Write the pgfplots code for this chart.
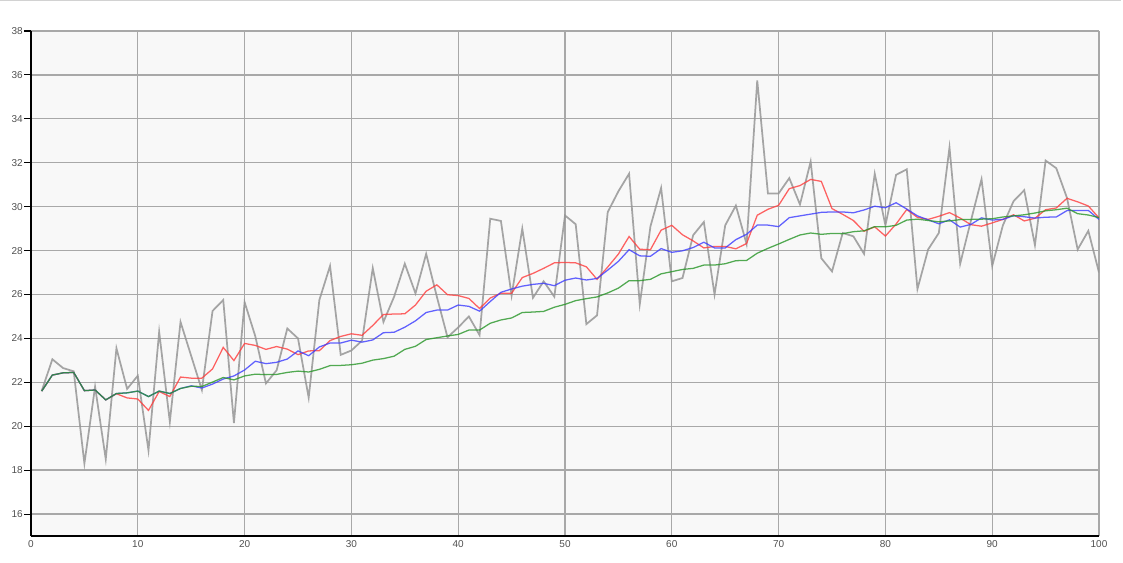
\documentclass[border=0pt]{standalone}
\usepackage{fontspec}
\setmainfont{Liberation Sans}
\usepackage{pgfplots}
\usepackage{pgfplotstable}
\pgfplotsset{compat=1.18}

\definecolor{gridgray}{RGB}{168,168,168}
\definecolor{rawgray}{RGB}{150,150,150}
\definecolor{mared}{RGB}{255,60,60}
\definecolor{mablue}{RGB}{60,60,255}
\definecolor{magreen}{RGB}{40,150,40}
\definecolor{labgray}{RGB}{80,80,80}
\definecolor{bggray}{RGB}{248,248,248}
\definecolor{framegray}{RGB}{210,210,210}

% x, raw value, 7-point, 14-point and 30-point moving average
\pgfplotstableread{
x g r b c
1 21.60 21.60 21.60 21.60
2 23.05 22.33 22.33 22.33
3 22.65 22.43 22.43 22.43
4 22.50 22.45 22.45 22.45
5 18.30 21.62 21.62 21.62
6 21.80 21.65 21.65 21.65
7 18.50 21.20 21.20 21.20
8 23.55 21.48 21.49 21.49
9 21.70 21.29 21.52 21.52
10 22.30 21.24 21.60 21.60
11 18.90 20.72 21.35 21.35
12 24.30 21.58 21.60 21.60
13 20.20 21.35 21.49 21.49
14 24.75 22.24 21.72 21.72
15 23.20 22.19 21.84 21.82
16 21.65 22.19 21.74 21.81
17 25.25 22.61 21.92 22.01
18 25.75 23.59 22.15 22.22
19 20.15 22.99 22.29 22.11
20 25.65 23.77 22.56 22.29
21 24.10 23.68 22.96 22.37
22 21.95 23.50 22.85 22.35
23 22.55 23.63 22.91 22.36
24 24.45 23.51 23.06 22.45
25 24.00 23.26 23.43 22.51
26 21.30 23.43 23.21 22.47
27 25.75 23.44 23.61 22.59
28 27.30 23.90 23.79 22.76
29 23.25 24.09 23.79 22.77
30 23.45 24.21 23.92 22.80
31 23.90 24.14 23.83 22.87
32 27.20 24.59 23.93 23.01
33 24.75 25.09 24.26 23.08
34 25.90 25.11 24.28 23.19
35 27.40 25.12 24.51 23.50
36 26.05 25.52 24.80 23.64
37 27.85 26.15 25.18 23.95
38 25.90 26.44 25.29 24.03
39 24.05 25.99 25.29 24.11
40 24.50 25.95 25.52 24.18
41 25.00 25.82 25.46 24.38
42 24.15 25.36 25.24 24.38
43 29.45 25.84 25.68 24.69
44 29.35 26.06 26.10 24.84
45 25.95 26.06 26.25 24.93
46 29.00 26.77 26.38 25.18
47 25.85 26.96 26.46 25.20
48 26.60 27.19 26.51 25.23
49 25.90 27.44 26.40 25.42
50 29.60 27.46 26.65 25.55
51 29.20 27.44 26.75 25.72
52 24.65 27.26 26.66 25.81
53 25.05 26.69 26.73 25.89
54 29.75 27.25 27.11 26.07
55 30.70 27.84 27.51 26.29
56 31.50 28.64 28.04 26.63
57 25.55 28.06 27.76 26.63
58 29.10 28.04 27.74 26.69
59 30.85 28.93 28.09 26.94
60 26.60 29.15 27.92 27.04
61 26.75 28.72 27.99 27.14
62 28.70 28.44 28.14 27.19
63 29.30 28.12 28.38 27.34
64 26.00 28.19 28.12 27.34
65 29.15 28.19 28.12 27.40
66 30.05 28.08 28.50 27.54
67 28.30 28.32 28.74 27.55
68 35.75 29.61 29.16 27.88
69 30.60 29.88 29.16 28.10
70 30.60 30.06 29.09 28.30
71 31.30 30.82 29.50 28.51
72 30.10 30.96 29.58 28.71
73 32.05 31.24 29.66 28.80
74 27.65 31.15 29.74 28.74
75 27.05 29.91 29.76 28.78
76 28.80 29.65 29.76 28.77
77 28.65 29.37 29.72 28.86
78 27.85 28.88 29.85 28.90
79 31.50 29.08 30.02 29.09
80 29.15 28.66 29.95 29.08
81 31.45 29.21 30.18 29.15
82 31.70 29.87 29.89 29.39
83 26.25 29.51 29.58 29.43
84 28.05 29.42 29.40 29.37
85 28.80 29.56 29.22 29.31
86 32.70 29.73 29.40 29.35
87 27.40 29.48 29.07 29.41
88 29.35 29.18 29.19 29.42
89 31.25 29.11 29.49 29.43
90 27.30 29.26 29.39 29.45
91 29.15 29.42 29.42 29.53
92 30.25 29.63 29.59 29.58
93 30.75 29.35 29.54 29.63
94 28.25 29.47 29.48 29.71
95 32.10 29.86 29.52 29.81
96 31.75 29.94 29.53 29.86
97 30.40 30.38 29.82 29.93
98 28.05 30.22 29.82 29.68
99 28.90 30.03 29.83 29.62
100 27.00 29.49 29.42 29.50
}\series

\begin{document}
\begin{tikzpicture}
\useasboundingbox (-23.25pt,-19.5pt) rectangle (819pt,402pt);
\draw[framegray, line width=0.75pt] (-23.25pt,401.4pt) -- (817.5pt,401.4pt);
\begin{axis}[
    scale only axis,
    width=801pt, height=378.75pt,
    xmin=0, xmax=100, ymin=15, ymax=38,
    xtick={0,10,...,100},
    ytick={16,18,...,38},
    axis x line*=bottom, axis y line*=left,
    axis line style={-, black, line width=1pt},
    axis background/.style={fill=bggray},
    grid=major,
    major grid style={gridgray, line width=1pt},
    tick align=outside,
    major tick length=5pt,
    xtick style={draw=none},
    ytick style={black, line width=0.8pt},
    /pgf/number format/assume math mode=true,
    ticklabel style={font=\fontsize{7.5}{9}\selectfont, text=labgray},
    yticklabel style={inner sep=1pt},
    xticklabel style={inner sep=1pt, yshift=3pt},
]
\addplot[rawgray, line width=1.3pt, opacity=0.85] table[x=x, y=g] {\series};
\addplot[mared, line width=0.95pt, opacity=0.8] table[x=x, y=r] {\series};
\addplot[mablue, line width=0.95pt, opacity=0.8] table[x=x, y=b] {\series};
\addplot[magreen, line width=0.95pt, opacity=0.8] table[x=x, y=c] {\series};
\end{axis}
\end{tikzpicture}
\end{document}
